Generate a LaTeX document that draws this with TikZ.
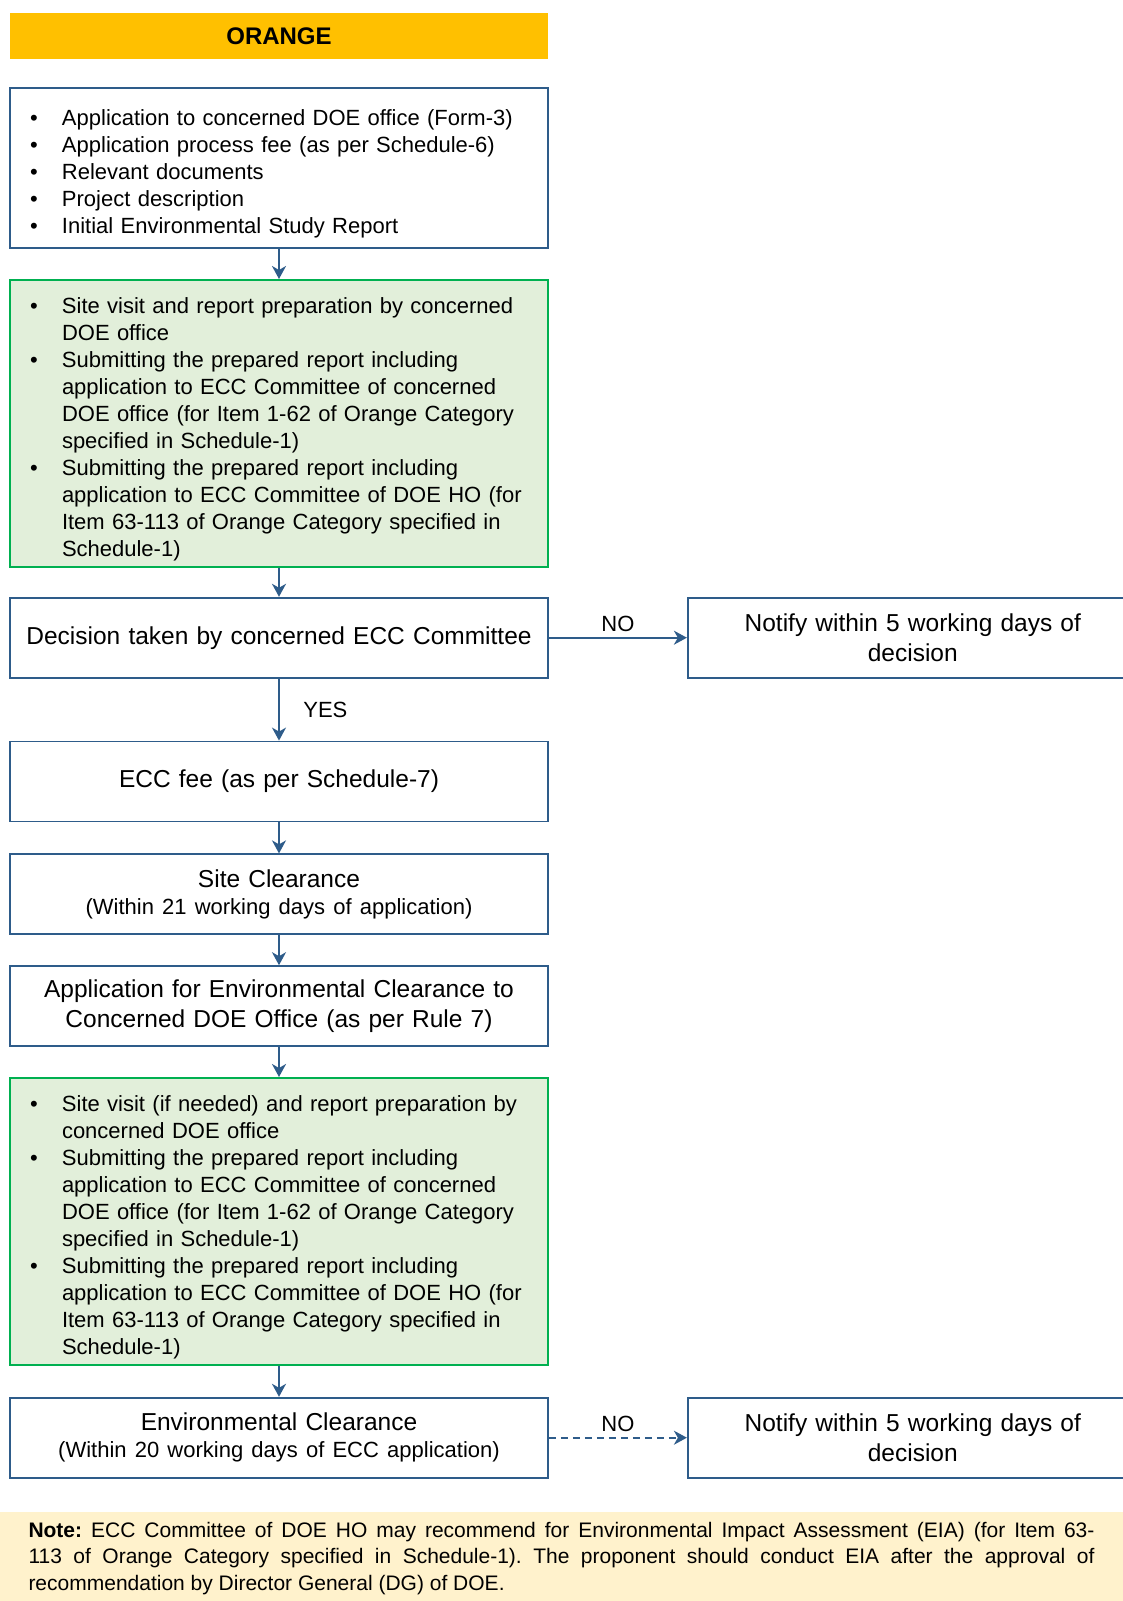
\documentclass[tikz,border=0pt]{standalone}
\usepackage{fontspec}
\setmainfont{Liberation Sans}
\usetikzlibrary{shapes,arrows.meta,positioning}

\definecolor{edgeblue}{HTML}{2E5C8A}
\definecolor{linegreen}{HTML}{00B050}
\definecolor{boxgreen}{HTML}{E2EFDA}
\definecolor{barorange}{HTML}{FFC000}
\definecolor{notefill}{HTML}{FFF2CC}

% text sizes and one bullet line with a hanging indent
\newcommand\bigtxt{\fontsize{24.5}{29.5}\selectfont}
\newcommand\smalltxt{\fontsize{22}{27}\selectfont}
\newcommand\bitem[1]{\par\noindent\hangindent=42pt\hangafter=1\makebox[42pt][l]{\hspace{10pt}\textbullet}#1\par}

\begin{document}
\begin{tikzpicture}[%
    x=1pt, y=1pt,
    >={Stealth[length=13pt,width=14pt,inset=4pt]}, % arrow heads of the flow
    node distance=30pt and 138pt, % gap between boxes
    ]
% -------------------------------------------------
% A few box styles
\tikzset{
  base/.style={draw=edgeblue, line width=1.8pt, minimum height=80pt, inner xsep=10pt, text width=518pt},
  box/.style={base, align=center, font=\bigtxt},
  list/.style={base, align=left, font=\smalltxt},
  glist/.style={list, draw=linegreen, fill=boxgreen, minimum height=287pt},
  side/.style={base, align=center, font=\bigtxt, text width=430pt},
  bar/.style={fill=barorange, minimum width=538pt, minimum height=46pt, font=\bfseries\fontsize{24}{28}\selectfont},
  note/.style={fill=notefill, minimum width=1124pt, text width=1066pt, inner xsep=29pt, inner ysep=10pt, align=justify, font=\frenchspacing\fontsize{21}{26.5}\selectfont},
  % Connector line styles
  conn/.style={->, draw=edgeblue, line width=2pt},
  dconn/.style={conn, dash pattern=on 7pt off 5pt},
  lbl/.style={font=\smalltxt, text=black}
}
\useasboundingbox (0,0) rectangle (1123,-1601);
% -------------------------------------------------
% Start by placing the nodes
\node [bar] (title) at (279,-36) {ORANGE};
\node [list, minimum height=160pt, below=28pt of title] (app) {%
  \bitem{Application to concerned DOE office (Form-3)}
  \bitem{Application process fee (as per Schedule-6)}
  \bitem{Relevant documents}
  \bitem{Project description}
  \bitem{Initial Environmental Study Report}};
\node [glist, below=of app] (site) {%
  \bitem{Site visit and report preparation by concerned\newline DOE office}
  \bitem{Submitting the prepared report including\newline application to ECC Committee of concerned\newline DOE office (for Item 1-62 of Orange Category\newline specified in Schedule-1)}
  \bitem{Submitting the prepared report including\newline application to ECC Committee of DOE HO (for\newline Item 63-113 of Orange Category specified in\newline Schedule-1)}};
\node [box, below=29pt of site] (dec) {Decision taken by concerned ECC Committee};
\node [side, right=of dec] (nfy1) {Notify within 5 working days of\\decision};
\node [box, below=62pt of dec] (fee) {ECC fee (as per Schedule-7)};
\node [box, below=31pt of fee] (sc) {Site Clearance\\{\smalltxt (Within 21 working days of application)\par}};
\node [box, below=of sc] (aec) {Application for Environmental Clearance to\\Concerned DOE Office (as per Rule 7)};
\node [glist, below=of aec] (rev) {%
  \bitem{Site visit (if needed) and report preparation by\newline concerned DOE office}
  \bitem{Submitting the prepared report including\newline application to ECC Committee of concerned\newline DOE office (for Item 1-62 of Orange Category\newline specified in Schedule-1)}
  \bitem{Submitting the prepared report including\newline application to ECC Committee of DOE HO (for\newline Item 63-113 of Orange Category specified in\newline Schedule-1)}};
\node [box, below=31pt of rev] (ec) {Environmental Clearance\\{\smalltxt (Within 20 working days of ECC application)\par}};
\node [side, right=of ec] (nfy2) {Notify within 5 working days of\\decision};
\node [note, anchor=north] (nt) at (561.5,-1512) {\textbf{Note:} ECC Committee of DOE HO may recommend for Environmental Impact Assessment (EIA) (for Item 63-\linebreak 113 of Orange Category specified in Schedule-1). The proponent should conduct EIA after the approval of\linebreak recommendation by Director General (DG) of DOE.};

% Connect them
\draw[conn] (app) -- (site);
\draw[conn] (site) -- (dec);
\draw[conn] (dec) -- node[lbl, right, xshift=20pt] {YES} (fee);
\draw[conn] (dec) -- node[lbl, above, yshift=2pt] {NO} (nfy1);
\draw[conn] (fee) -- (sc);
\draw[conn] (sc) -- (aec);
\draw[conn] (aec) -- (rev);
\draw[conn] (rev) -- (ec);
\draw[dconn] (ec) -- node[lbl, above, yshift=2pt] {NO} (nfy2);

% -------------------------------------------------
\end{tikzpicture}
\end{document}
